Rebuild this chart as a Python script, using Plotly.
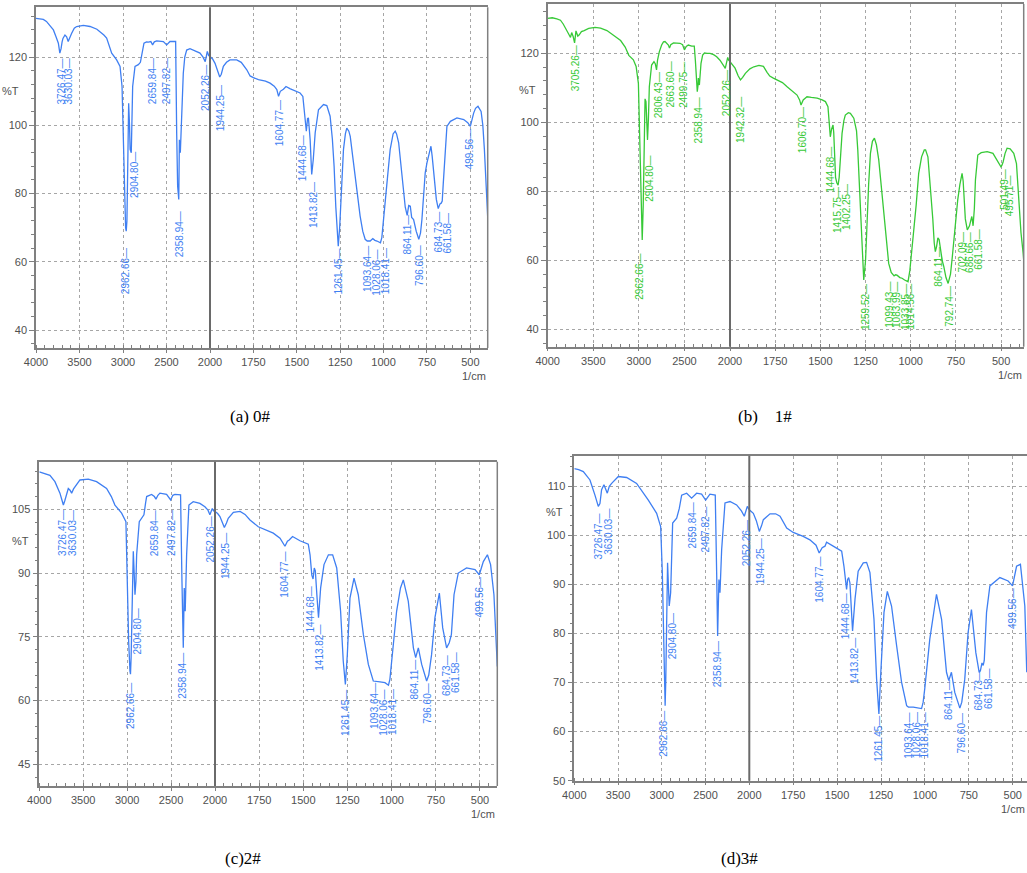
import plotly.graph_objects as go

# ---------------- data ----------------
XL_TICKS = [4000, 3500, 3000, 2500, 2000]
XR_TICKS = [1750, 1500, 1250, 1000, 750, 500]

# (a) 0#
A_WN = [4000, 3950, 3916, 3880, 3850, 3820, 3800, 3770, 3743, 3726, 3712, 3700, 3690, 3667, 3648, 3630,
        3610, 3590, 3560, 3533, 3456, 3379, 3300, 3264, 3220, 3188, 3150, 3130, 3073, 3034, 3011, 2996,
        2981, 2970, 2963, 2955, 2950, 2942, 2935, 2925, 2918, 2905, 2896, 2889, 2862, 2824, 2800, 2785,
        2759, 2730, 2709, 2680, 2660, 2640, 2613, 2536, 2498, 2460, 2395, 2383, 2372, 2359, 2352, 2345,
        2341, 2335, 2326, 2307, 2290, 2268, 2230, 2192, 2150, 2115, 2080, 2055, 2040, 2031, 2015, 2000,
        1985, 1971, 1955, 1944, 1935, 1923, 1905, 1885, 1846, 1820, 1788, 1769, 1750, 1721, 1680, 1654,
        1630, 1615, 1605, 1595, 1577, 1562, 1540, 1519, 1481, 1465, 1452, 1445, 1438, 1433, 1423, 1414,
        1405, 1394, 1375, 1346, 1327, 1308, 1295, 1285, 1275, 1269, 1261, 1253, 1246, 1231, 1220, 1212,
        1200, 1192, 1178, 1163, 1150, 1135, 1120, 1106, 1094, 1077, 1062, 1050, 1038, 1028, 1018, 1010,
        1000, 990, 975, 962, 945, 933, 925, 913, 900, 885, 875, 864, 855, 846, 838, 827, 812, 797, 787,
        779, 770, 760, 750, 740, 727, 720, 712, 704, 696, 685, 675, 668, 662, 656, 650, 642, 635, 615,
        577, 538, 515, 500, 490, 481, 470, 456, 438, 428, 419, 410, 404, 400]
A_T = [131.4, 131.2, 131.1, 130.5, 129.5, 128.5, 128.0, 126.0, 124.1, 121.2, 122.5, 124.5, 125.5, 126.5, 126.0, 124.6,
       126.0, 127.0, 128.5, 129.0, 129.3, 129.0, 128.2, 127.5, 126.5, 125.6, 123.0, 121.2, 119.2, 117.3, 111.4, 95.8,
       76.3, 70.0, 69.0, 72.0, 80.2, 95.0, 106.5, 100.0, 93.0, 92.0, 100.0, 111.4, 117.3, 117.8, 118.5, 120.2,
       124.1, 124.5, 124.4, 124.6, 123.6, 124.5, 124.8, 124.6, 123.6, 124.6, 124.6, 97.8, 82.2, 78.3, 95.8, 93.0,
       92.0, 96.0, 102.7, 115.3, 120.0, 122.1, 122.5, 122.1, 121.5, 121.2, 120.0, 118.7, 120.5, 121.7, 120.5, 120.2,
       119.5, 118.2, 116.0, 114.2, 115.0, 117.3, 118.5, 119.2, 119.2, 118.5, 116.3, 114.5, 114.0, 113.4, 113.0, 112.4,
       111.5, 110.5, 108.5, 110.0, 110.6, 111.4, 110.8, 110.4, 109.5, 108.5, 100.7, 98.3, 102.0, 102.2, 95.8, 85.6,
       90.0, 97.8, 104.6, 106.1, 105.8, 102.7, 96.0, 88.0, 76.0, 69.5, 64.6, 70.0, 78.3, 92.9, 97.5, 99.2,
       98.3, 96.8, 91.0, 85.1, 79.0, 73.4, 69.0, 66.6, 66.1, 66.1, 66.8, 66.3, 66.1, 65.8, 65.6, 67.1,
       72.0, 78.3, 86.0, 92.9, 97.5, 98.3, 97.5, 94.9, 88.0, 80.2, 76.0, 73.6, 76.5, 76.3, 73.0, 72.4, 69.0, 66.6, 68.5,
       72.4, 79.0, 86.1, 89.0, 91.0, 93.9, 91.0, 86.1, 82.0, 78.3, 75.6, 77.0, 77.2, 77.8, 83.0, 88.0, 95.0, 99.7, 101.2,
       102.2, 101.7, 100.8, 99.7, 102.0, 103.6, 105.0, 105.6, 104.1, 100.0, 92.9, 82.0, 74.4, 73.0]
A_PK_TXT = ["3726.47", "3630.03", "2962.66", "2904.80", "2659.84", "2497.82", "2358.94", "2052.26", "1944.25",
            "1604.77", "1444.68", "1413.82", "1261.45", "1093.64", "1028.06", "1018.41", "864.11", "796.60",
            "684.73", "661.58", "499.56"]
A_PK_X = [3712, 3621, 2977, 2870, 2659, 2498, 2356, 2050, 1942, 1602, 1462, 1404, 1260, 1092, 1042, 991,
          860, 792, 683, 634, 500]
A_PK_Y = [120.2, 120.2, 64.6, 92.9, 120.2, 120.2, 75.4, 118.2, 112.4, 108.0, 97.8, 84.1, 64.6, 65.1, 64.2,
          64.6, 74.4, 65.6, 75.4, 74.9, 99.7]

# (b) 1#
B_WN = [4000, 3950, 3900, 3860, 3830, 3800, 3770, 3750, 3737, 3720, 3705, 3690, 3670, 3656, 3630, 3600,
        3550, 3480, 3420, 3350, 3280, 3200, 3150, 3110, 3060, 3030, 3005, 2990, 2978, 2963, 2952, 2942,
        2932, 2922, 2914, 2905, 2895, 2885, 2860, 2834, 2820, 2806, 2795, 2775, 2750, 2730, 2713, 2690,
        2676, 2664, 2650, 2620, 2580, 2548, 2520, 2500, 2480, 2457, 2420, 2392, 2380, 2370, 2359, 2352,
        2347, 2342, 2336, 2328, 2318, 2300, 2280, 2250, 2219, 2180, 2146, 2110, 2080, 2060, 2052, 2040,
        2025, 2015, 2000, 1985, 1972, 1955, 1942, 1930, 1915, 1890, 1868, 1840, 1815, 1795, 1780, 1760,
        1740, 1710, 1684, 1650, 1629, 1615, 1607, 1595, 1574, 1550, 1518, 1490, 1472, 1458, 1452, 1445,
        1438, 1434, 1430, 1426, 1420, 1416, 1409, 1402, 1396, 1393, 1385, 1380, 1370, 1362, 1345, 1334,
        1315, 1300, 1293, 1285, 1275, 1266, 1260, 1250, 1242, 1233, 1223, 1212, 1201, 1190, 1177, 1163,
        1149, 1135, 1122, 1108, 1099, 1092, 1084, 1076, 1060, 1048, 1034, 1024, 1015, 1005, 995, 984,
        970, 956, 940, 925, 918, 905, 891, 878, 870, 864, 857, 850, 843, 836, 826, 817, 805, 793, 780,
        770, 762, 750, 740, 728, 716, 710, 703, 698, 687, 675, 668, 662, 655, 648, 642, 635, 629, 610,
        577, 545, 522, 510, 501, 496, 489, 478, 467, 450, 430, 415, 402, 390, 378, 375]
B_T = [130.1, 130.3, 130.0, 129.6, 128.5, 127.2, 125.6, 124.6, 126.0, 124.8, 123.0, 126.5, 125.0, 125.3, 126.3, 126.6,
       127.2, 127.5, 127.3, 126.6, 125.3, 123.7, 121.8, 119.4, 118.1, 116.2, 111.3, 96.0, 78.0, 65.9, 76.0, 98.0,
       106.8, 106.0, 98.7, 94.9, 101.0, 110.3, 116.6, 117.6, 117.0, 115.2, 118.0, 120.5, 122.4, 123.3, 123.4, 122.8,
       122.4, 121.5, 122.5, 123.0, 122.9, 122.9, 122.5, 121.0, 122.0, 122.4, 122.1, 122.1, 118.0, 112.0, 108.9, 110.5,
       112.8, 111.5, 110.8, 114.0, 117.1, 119.5, 120.1, 120.0, 120.0, 119.6, 119.0, 118.0, 117.0, 116.0, 115.6, 117.0,
       118.8, 118.0, 117.6, 116.5, 115.7, 113.5, 112.3, 113.0, 114.2, 115.5, 116.1, 116.5, 116.2, 114.5, 113.4, 112.8,
       112.3, 111.5, 110.3, 108.8, 107.9, 106.5, 105.0, 106.5, 107.4, 107.2, 107.0, 106.5, 106.0, 104.5, 100.0, 95.8,
       98.0, 98.7, 99.2, 97.0, 90.0, 84.0, 82.5, 81.8, 84.0, 87.1, 93.0, 96.8, 100.5, 102.1, 102.8, 102.6,
       101.2, 97.5, 92.0, 83.0, 72.7, 62.0, 54.3, 60.0, 72.7, 82.0, 91.0, 94.5, 95.4, 93.5, 89.1, 81.0,
       72.7, 65.0, 59.1, 56.5, 55.7, 55.5, 55.8, 55.7, 55.0, 54.8, 54.3, 54.0, 53.8, 57.0, 62.0, 67.8,
       76.0, 85.2, 90.0, 92.0, 92.0, 90.0, 81.4, 72.0, 65.0, 62.5, 64.0, 66.5, 66.0, 63.0, 60.0, 58.2, 55.0, 53.3, 56.0,
       61.0, 66.0, 72.0, 77.5, 82.0, 85.2, 83.0, 77.5, 72.0, 68.8, 70.0, 71.5, 72.7, 70.0, 75.0, 83.3, 88.0, 90.5, 91.2,
       91.5, 91.0, 89.1, 88.0, 87.1, 87.5, 88.5, 91.0, 92.5, 92.3, 91.0, 88.0, 77.5, 68.0, 62.0, 60.0]
B_PK_TXT = ["3705.26", "2962.66", "2904.80", "2806.43", "2663.60", "2499.75", "2358.94", "2052.26", "1942.32",
            "1606.70", "1444.68", "1415.75", "1402.25", "1259.52", "1099.43", "1083.99", "1033.85", "1014.56",
            "864.11", "792.74", "702.09", "686.66", "661.58", "501.49", "495.71"]
B_PK_X = [3700, 2987, 2885, 2786, 2651, 2505, 2347, 2044, 1945, 1601, 1448, 1408, 1356, 1251, 1116, 1076,
          1030, 998, 851, 784, 716, 675, 629, 481, 449]
B_PK_Y = [122.9, 62.5, 91.0, 115.2, 118.1, 118.1, 107.9, 115.7, 107.9, 105.0, 93.4, 81.8, 82.8, 53.8, 54.3,
          54.3, 53.8, 53.8, 64.4, 53.3, 68.8, 68.8, 69.8, 87.1, 85.2]

# (c) 2#
C_WN = [4000, 3950, 3879, 3822, 3765, 3740, 3726, 3710, 3689, 3670, 3650, 3632, 3610, 3594, 3537, 3442,
        3348, 3234, 3180, 3139, 3063, 3014, 2998, 2983, 2968, 2962, 2955, 2945, 2930, 2920, 2911, 2900,
        2892, 2862, 2835, 2809, 2790, 2778, 2722, 2690, 2672, 2650, 2627, 2551, 2505, 2480, 2456, 2392,
        2376, 2369, 2361, 2350, 2339, 2323, 2297, 2248, 2172, 2115, 2080, 2058, 2040, 2031, 2015, 2000,
        1985, 1972, 1947, 1935, 1925, 1896, 1858, 1830, 1802, 1755, 1700, 1670, 1632, 1604, 1590, 1580,
        1561, 1540, 1519, 1472, 1462, 1452, 1445, 1438, 1432, 1422, 1414, 1402, 1383, 1358, 1334, 1311,
        1289, 1274, 1262, 1251, 1236, 1213, 1189, 1160, 1132, 1104, 1093, 1066, 1038, 1023, 1018, 1010,
        1000, 972, 950, 934, 906, 877, 864, 849, 830, 802, 790, 774, 755, 730, 711, 698, 689, 674, 662,
        647, 623, 576, 528, 504, 481, 458, 440, 421, 406, 402]
C_T = [113.8, 113.4, 113.0, 111.5, 108.8, 107.0, 106.0, 107.0, 108.4, 109.9, 109.5, 108.8, 109.8, 110.3, 111.9, 112.1,
       111.5, 109.9, 108.0, 106.0, 104.1, 102.1, 86.5, 74.0, 67.0, 66.2, 70.0, 78.7, 95.1, 90.0, 84.9, 88.0,
       94.3, 102.1, 102.9, 103.7, 106.5, 108.0, 108.5, 108.0, 107.4, 108.3, 108.8, 108.5, 107.2, 108.3, 108.5, 108.4,
       88.0, 74.0, 72.4, 86.5, 81.0, 94.3, 106.0, 106.8, 106.4, 105.6, 104.8, 103.7, 104.8, 105.2, 104.6, 104.5,
       104.0, 103.3, 100.7, 101.8, 102.9, 104.3, 104.5, 103.8, 102.5, 100.9, 99.9, 99.4, 98.2, 96.3, 97.5, 97.8,
       98.6, 98.0, 97.6, 96.8, 94.3, 89.5, 88.6, 91.2, 90.5, 84.0, 79.5, 86.5, 92.0, 94.3, 94.3, 91.2,
       81.0, 69.3, 63.8, 70.8, 84.1, 88.8, 84.9, 75.5, 68.5, 64.6, 64.5, 64.4, 64.2, 63.8, 63.6, 65.0,
       69.3, 81.0, 86.5, 88.4, 83.4, 72.4, 70.1, 72.4, 68.5, 64.6, 66.0, 70.8, 79.5, 85.3, 77.1, 74.0, 72.4, 73.6, 75.5,
       84.9, 90.0, 91.2, 90.8, 89.6, 92.7, 94.3, 92.0, 84.9, 70.8, 68.0]
C_PK_TXT = A_PK_TXT
C_PK_X = [3734, 3621, 2968, 2885, 2684, 2494, 2369, 2050, 1940, 1604, 1457, 1406, 1258, 1100, 1047, 994,
          868, 798, 693, 642, 504]
C_PK_Y = [105.2, 105.2, 64.6, 82.2, 105.2, 105.2, 71.6, 103.7, 99.8, 95.5, 87.3, 78.3, 63.0, 64.6, 63.1,
          63.1, 70.1, 64.6, 71.3, 72.0, 89.6]

# (d) 3#
D_WN = [4000, 3950, 3897, 3821, 3764, 3740, 3726, 3707, 3688, 3661, 3640, 3623, 3600, 3573, 3497, 3402,
        3288, 3154, 3059, 3013, 2994, 2979, 2968, 2962, 2955, 2949, 2934, 2925, 2915, 2899, 2876, 2830,
        2800, 2773, 2716, 2659, 2602, 2545, 2499, 2450, 2389, 2373, 2362, 2355, 2347, 2335, 2316, 2278,
        2221, 2145, 2090, 2057, 2040, 2023, 2010, 2000, 1977, 1960, 1943, 1930, 1920, 1882, 1850, 1825,
        1787, 1750, 1693, 1655, 1620, 1602, 1585, 1569, 1560, 1503, 1474, 1461, 1450, 1446, 1440, 1434,
        1427, 1412, 1398, 1380, 1351, 1332, 1313, 1290, 1275, 1262, 1251, 1233, 1214, 1190, 1161, 1133,
        1104, 1094, 1066, 1038, 1028, 1019, 1010, 1001, 972, 934, 905, 877, 864, 849, 830, 801, 790, 773,
        754, 735, 710, 691, 684, 675, 668, 662, 649, 630, 573, 526, 501, 478, 456, 431, 420]
D_T = [113.6, 113.4, 113.0, 111.3, 108.2, 107.0, 105.9, 106.5, 109.3, 110.3, 109.5, 108.6, 110.0, 110.6, 112.0, 111.8,
       110.6, 107.2, 104.5, 101.8, 92.4, 78.9, 68.0, 65.3, 70.0, 78.9, 94.4, 90.0, 85.6, 88.3, 102.5, 103.5,
       105.5, 108.2, 108.6, 107.6, 108.6, 108.4, 107.2, 108.4, 108.2, 92.4, 79.5, 85.0, 91.0, 88.3, 97.1, 106.6,
       106.9, 106.2, 105.0, 103.9, 105.2, 105.9, 105.5, 105.2, 104.5, 103.0, 100.8, 102.0, 103.2, 104.4, 104.4, 103.9,
       101.5, 100.6, 99.8, 99.1, 98.0, 96.4, 97.5, 97.8, 98.6, 97.4, 96.8, 93.7, 89.5, 89.0, 91.0, 91.4,
       90.3, 80.5, 87.0, 92.7, 94.4, 94.5, 92.4, 82.9, 70.7, 63.6, 72.1, 84.3, 88.6, 85.6, 77.5, 70.1,
       65.3, 65.0, 65.0, 64.8, 64.8, 64.7, 66.0, 68.7, 78.9, 88.0, 82.9, 72.1, 70.4, 72.1, 68.0, 64.8, 66.0, 70.7,
       80.2, 84.9, 76.1, 72.1, 72.4, 74.0, 73.5, 74.5, 84.3, 89.7, 91.4, 90.7, 89.7, 93.7, 94.1, 85.6, 72.1]
D_PK_TXT = A_PK_TXT
D_PK_X = [3726, 3611, 2983, 2869, 2651, 2499, 2354, 2038, 1939, 1602, 1455, 1398, 1262, 1095, 1047, 1000,
          867, 797, 694, 637, 501]
D_PK_Y = [104.9, 105.9, 64.7, 84.6, 107.2, 106.2, 78.9, 103.5, 99.8, 96.1, 88.6, 79.5, 63.6, 64.3, 64.3,
          64.3, 71.0, 64.3, 73.1, 73.4, 89.7]

CAPTIONS = ["(a) 0#", "(b)\u00a0\u00a0\u00a0 1#", "(c)2#", "(d)3#"]

# ---------------- styling / layout ----------------
W, H = 1027, 873
BLUE = "#3f7ff2"
GREEN = "#37c937"
FRAME = "#808080"
GRID = "#a6a6a6"
TICKC = "#505050"
FONT = "Liberation Sans, Arial, sans-serif"
SERIF = "Liberation Serif, Times New Roman, serif"

PANELS = [
    dict(wn=A_WN, t=A_T, color=BLUE, left=36.0, mid=210.0, right=487.7, top=7.3, bottom=348.0,
         yrange=(34.73, 134.63), ydtick=20, yminor=4, xend=400, pct=110, pct_shift=-15,
         pk=(A_PK_TXT, A_PK_X, A_PK_Y), cap=(250, 416), rframe=True),
    dict(wn=B_WN, t=B_T, color=GREEN, left=547.7, mid=730.0, right=1023.7, top=4.0, bottom=346.7,
         yrange=(34.96, 134.29), ydtick=20, yminor=4, xend=375, pct=109.4, pct_shift=-10,
         pk=(B_PK_TXT, B_PK_X, B_PK_Y), cap=(765, 416), rframe=True),
    dict(wn=C_WN, t=C_T, color=BLUE, left=39.3, mid=215.0, right=497.3, top=461.7, bottom=786.0,
         yrange=(39.9, 116.2), ydtick=15, yminor=3, xend=402, pct=97.5, pct_shift=-8,
         pk=(C_PK_TXT, C_PK_X, C_PK_Y), cap=(243, 858), rframe=True),
    dict(wn=D_WN, t=D_T, color=BLUE, left=574.3, mid=749.3, right=1027.0, top=455.7, bottom=780.7,
         yrange=(50.0, 116.24), ydtick=10, yminor=2, xend=418.6, pct=104.8, pct_shift=-9,
         pk=(D_PK_TXT, D_PK_X, D_PK_Y), cap=(739, 858), rframe=False),
]

fig = go.Figure()
layout = dict(width=W, height=H, margin=dict(l=0, r=0, t=0, b=0, autoexpand=False),
              paper_bgcolor="white", plot_bgcolor="white", showlegend=False)
annotations, shapes = [], []

tickfont = dict(family=FONT, size=11, color=TICKC)

for i, p in enumerate(PANELS):
    nl, nr, ny = 2 * i + 1, 2 * i + 2, i + 1
    xl_id = "x" if nl == 1 else f"x{nl}"
    xr_id = f"x{nr}"
    y_id = "y" if ny == 1 else f"y{ny}"
    xl_key = "xaxis" if nl == 1 else f"xaxis{nl}"
    xr_key = f"xaxis{nr}"
    y_key = "yaxis" if ny == 1 else f"yaxis{ny}"
    ydom = [1 - p["bottom"] / H, 1 - p["top"] / H]

    common_x = dict(anchor=y_id, tickmode="array", showgrid=True, gridcolor=GRID, griddash="dot",
                    gridwidth=1, showline=True, linecolor=FRAME, linewidth=1.5, mirror=True,
                    ticks="outside", ticklen=3, tickcolor=FRAME, tickfont=tickfont,
                    zeroline=False, fixedrange=True, automargin=False)
    layout[xl_key] = dict(common_x, domain=[p["left"] / W, p["mid"] / W], range=[4000, 2000],
                          tickvals=XL_TICKS, ticktext=[str(v) for v in XL_TICKS],
                          minor=dict(tickmode="linear", tick0=0, dtick=100, ticks="inside",
                                     ticklen=3, tickcolor=FRAME, showgrid=False))
    layout[xr_key] = dict(common_x, domain=[p["mid"] / W, min(p["right"] / W, 1.0)],
                          range=[2000, p["xend"]],
                          tickvals=XR_TICKS, ticktext=[str(v) for v in XR_TICKS],
                          minor=dict(tickmode="linear", tick0=0, dtick=50, ticks="inside",
                                     ticklen=3, tickcolor=FRAME, showgrid=False))
    layout[y_key] = dict(anchor=xl_id, domain=ydom, range=list(p["yrange"]), tickmode="linear",
                         tick0=0, dtick=p["ydtick"], showgrid=True, gridcolor=GRID, griddash="dot",
                         gridwidth=1, showline=True, linecolor=FRAME, linewidth=1.5, mirror=False,
                         ticks="outside", ticklen=5, tickcolor=FRAME, tickfont=tickfont,
                         zeroline=False, fixedrange=True, automargin=False,
                         minor=dict(dtick=p["yminor"], ticks="outside", ticklen=3,
                                    tickcolor=FRAME, showgrid=False))

    lw = [w for w in p["wn"] if w >= 2000]
    lt = [t for w, t in zip(p["wn"], p["t"]) if w >= 2000]
    rw = [w for w in p["wn"] if w <= 2000]
    rt = [t for w, t in zip(p["wn"], p["t"]) if w <= 2000]
    for xs, ys, xa in ((lw, lt, xl_id), (rw, rt, xr_id)):
        fig.add_trace(go.Scatter(x=xs, y=ys, xaxis=xa, yaxis=y_id, mode="lines",
                                 line=dict(color=p["color"], width=1.3), hoverinfo="skip"))

    # peak labels
    txts, pxs, pys = p["pk"]
    for txt, px, py in zip(txts, pxs, pys):
        annotations.append(dict(text=txt + "\u2014", x=px, y=py,
                                xref=xl_id if px >= 2000 else xr_id, yref=y_id,
                                textangle=-90, xanchor="center", yanchor="top", showarrow=False,
                                font=dict(family=FONT, size=10, color=p["color"])))

    # %T and 1/cm
    annotations.append(dict(text="%T", x=0, xref=f"{xl_id} domain", y=p["pct"], yref=y_id,
                            xanchor="right", yanchor="middle", xshift=p["pct_shift"], showarrow=False,
                            font=dict(family=FONT, size=11, color=TICKC)))
    annotations.append(dict(text="1/cm", x=1, xref=f"{xr_id} domain", y=0, yref=f"{y_id} domain",
                            xanchor="right", yanchor="top", yshift=-20, showarrow=False,
                            font=dict(family=FONT, size=11, color=TICKC)))
    # caption
    cx, cy = p["cap"]
    annotations.append(dict(text=CAPTIONS[i], x=cx / W, y=1 - cy / H, xref="paper", yref="paper",
                            xanchor="center", yanchor="middle", showarrow=False,
                            font=dict(family=SERIF, size=17, color="black")))

    # dark divider at 2000 and right frame edge
    shapes.append(dict(type="line", xref=f"{xl_id} domain", x0=1, x1=1,
                       yref=f"{y_id} domain", y0=0, y1=1,
                       line=dict(color="#6a6a6a", width=2)))
    if p["rframe"]:
        shapes.append(dict(type="line", xref=f"{xr_id} domain", x0=1, x1=1,
                           yref=f"{y_id} domain", y0=0, y1=1,
                           line=dict(color=FRAME, width=1.5)))

layout["annotations"] = annotations
layout["shapes"] = shapes
fig.update_layout(**layout)
fig.write_html("out.html", config={"displayModeBar": False},
               post_script="document.body.style.margin='0';document.body.style.overflow='hidden';")
